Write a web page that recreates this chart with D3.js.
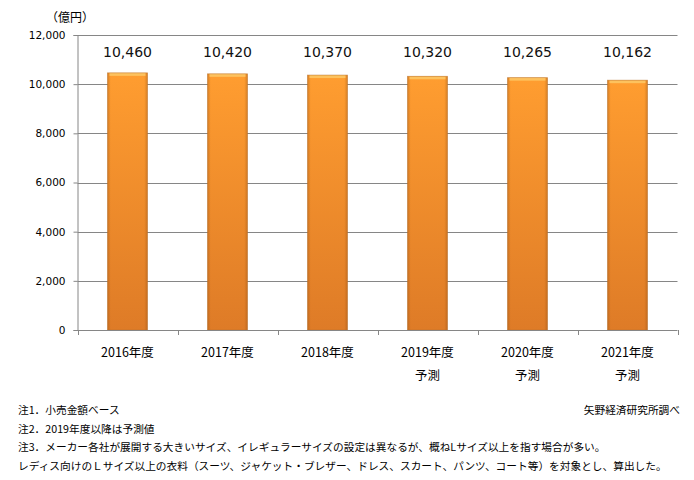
<!DOCTYPE html>
<html><head><meta charset="utf-8">
<script src="https://cdn.jsdelivr.net/npm/d3@7"></script>
<style>body{margin:0;background:#fff}svg{display:block}</style>
</head><body><svg id="c" width="694" height="480"></svg>
<script>
const categories = ["2016年度","2017年度","2018年度","2019年度","2020年度","2021年度"];
const subLabels = ["","","","予測","予測","予測"];
const values = [10460,10420,10370,10320,10265,10162];
const yTicks = [0,2000,4000,6000,8000,10000,12000];
const unitLabel = "（億円）";
const notes = ["注1．小売金額ベース","注2．2019年度以降は予測値","注3．メーカー各社が展開する大きいサイズ、イレギュラーサイズの設定は異なるが、概ねLサイズ以上を指す場合が多い。","レディス向けのＬサイズ以上の衣料（スーツ、ジャケット・ブレザー、ドレス、スカート、パンツ、コート等）を対象とし、算出した。"];
const source = "矢野経済研究所調べ";

const svg = d3.select("#c");
const L = 77.5, R = 677.5, T = 35, B = 330;
const x = d3.scaleBand().domain(categories).range([L, R]).paddingInner(0.6).paddingOuter(0.3);
const y = d3.scaleLinear().domain([0, 12000]).range([B, T]);
const jp = "'Noto Sans CJK JP','Noto Sans',sans-serif";
const num = "'DejaVu Sans',Verdana,sans-serif";

const defs = svg.append("defs");
const g1 = defs.append("linearGradient").attr("id","bv").attr("x1",0).attr("y1",0).attr("x2",0).attr("y2",1);
g1.append("stop").attr("offset","0%").attr("stop-color","#FF9D30");
g1.append("stop").attr("offset","100%").attr("stop-color","#DE7B27");
const g2 = defs.append("linearGradient").attr("id","bh").attr("x1",0).attr("y1",0).attr("x2",1).attr("y2",0);
g2.append("stop").attr("offset","0%").attr("stop-color","#8a4a10").attr("stop-opacity",0.35);
g2.append("stop").attr("offset","8%").attr("stop-color","#8a4a10").attr("stop-opacity",0);
g2.append("stop").attr("offset","92%").attr("stop-color","#8a4a10").attr("stop-opacity",0);
g2.append("stop").attr("offset","100%").attr("stop-color","#8a4a10").attr("stop-opacity",0.35);

// gridlines
svg.append("g").selectAll("line").data(yTicks.filter(d=>d>0)).join("line")
  .attr("x1", L).attr("x2", R).attr("y1", d=>Math.round(y(d))+0.5).attr("y2", d=>Math.round(y(d))+0.5)
  .attr("stroke","#868686").attr("stroke-width",1);

// y axis
const ya = svg.append("g").attr("transform",`translate(${L},0)`)
  .call(d3.axisLeft(y).tickValues(yTicks).tickSize(4).tickPadding(8).tickFormat(d3.format(",")));
ya.selectAll("path,line").attr("stroke","#868686");
ya.selectAll("text").attr("font-family",num).attr("font-size","10.5px").attr("fill","#000");

// bars
const bars = svg.append("g").selectAll("g").data(values).join("g");
bars.append("rect").attr("x",(d,i)=>x(categories[i])).attr("width",x.bandwidth())
  .attr("y",d=>y(d)).attr("height",d=>y(0)-y(d)).attr("fill","url(#bv)");
bars.append("rect").attr("x",(d,i)=>x(categories[i])).attr("width",x.bandwidth())
  .attr("y",d=>y(d)).attr("height",d=>y(0)-y(d)).attr("fill","url(#bh)");
bars.append("rect").attr("x",(d,i)=>x(categories[i])+2).attr("width",x.bandwidth()-4)
  .attr("y",d=>y(d)).attr("height",3).attr("fill","#FDC25E");
bars.append("rect").attr("x",(d,i)=>x(categories[i])).attr("width",x.bandwidth())
  .attr("y",d=>y(d)).attr("height",d=>y(0)-y(d)).attr("fill","none").attr("stroke","#B8722E").attr("stroke-opacity",0.6).attr("stroke-width",0.8);

// data labels
svg.append("g").selectAll("text").data(values).join("text")
  .attr("x",(d,i)=>x(categories[i])+x.bandwidth()/2).attr("y",57)
  .attr("text-anchor","middle").attr("font-family",num).attr("font-size","14px").attr("fill","#111")
  .text(d=>d3.format(",")(d));

// x axis
const xa = svg.append("g").attr("transform",`translate(0,${B})`);
xa.append("line").attr("x1",L).attr("x2",R).attr("y1",0.5).attr("y2",0.5).attr("stroke","#868686");
const bounds = d3.range(categories.length+1).map(i => L + (R-L)*i/categories.length);
xa.selectAll("line.t").data(bounds).join("line").attr("class","t")
  .attr("x1",d=>Math.round(d)+0.5).attr("x2",d=>Math.round(d)+0.5).attr("y1",0).attr("y2",5).attr("stroke","#868686");
xa.selectAll("text.c").data(categories).join("text").attr("class","c")
  .attr("x",d=>x(d)+x.bandwidth()/2).attr("y",27).attr("text-anchor","middle")
  .attr("font-family",jp).attr("font-size","12.5px").attr("fill","#000").text(d=>d);
xa.selectAll("text.s").data(subLabels).join("text").attr("class","s")
  .attr("x",(d,i)=>x(categories[i])+x.bandwidth()/2).attr("y",50).attr("text-anchor","middle")
  .attr("font-family",jp).attr("font-size","12.5px").attr("fill","#000").text(d=>d);

// unit
svg.append("text").attr("x",46).attr("y",22).attr("font-family",jp).attr("font-size","12px").attr("fill","#000").text(unitLabel);

// notes
svg.append("g").selectAll("text").data(notes).join("text")
  .attr("x",18).attr("y",(d,i)=>414+i*18.6)
  .attr("font-family",jp).attr("font-size","10.7px").attr("fill","#000").text(d=>d);
svg.append("text").attr("x",680).attr("y",414).attr("text-anchor","end")
  .attr("font-family",jp).attr("font-size","10.7px").attr("fill","#000").text(source);
</script></body></html>
